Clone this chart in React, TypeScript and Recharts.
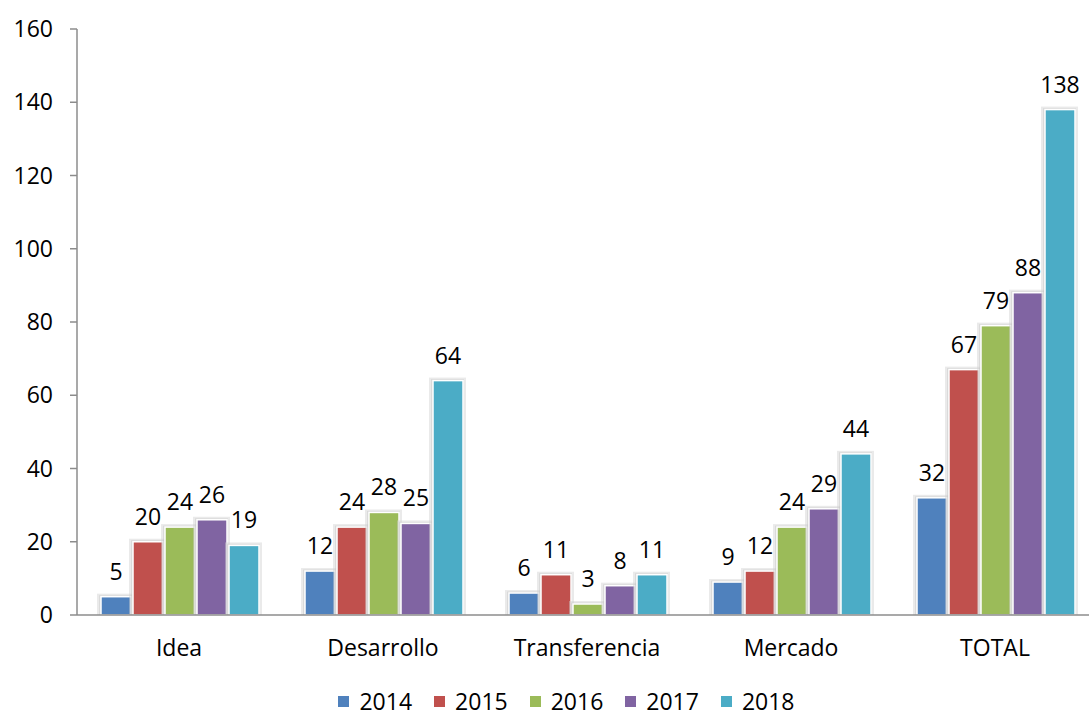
import React from "react";
import {
  BarChart,
  Bar,
  XAxis,
  YAxis,
  Legend,
  LabelList,
} from "recharts";

const categories = ["Idea", "Desarrollo", "Transferencia", "Mercado", "TOTAL"];
const years = ["2014", "2015", "2016", "2017", "2018"];
const values2014 = [5, 12, 6, 9, 32];
const values2015 = [20, 24, 11, 12, 67];
const values2016 = [24, 28, 3, 24, 79];
const values2017 = [26, 25, 8, 29, 88];
const values2018 = [19, 64, 11, 44, 138];
const yTicks = [0, 20, 40, 60, 80, 100, 120, 140, 160];
const boundaryTicks = [0, 1, 2, 3, 4, 5];

const colors = ["#4F81BD", "#C0504D", "#9BBB59", "#8064A2", "#4BACC6"];
const seriesValues = [values2014, values2015, values2016, values2017, values2018];

const data = categories.map((name, i) => {
  const row: Record<string, string | number> = { name };
  years.forEach((y, j) => {
    row[y] = seriesValues[j][i];
  });
  return row;
});

const FONT = "'Open Sans', 'Noto Sans', sans-serif";
const AXIS = "#8c8c8c";
const FS = 23;

// bar with a soft grey shadow on the left/top and a white edge
const ShadowBar = (props: any) => {
  const { x, y, width, height, fill } = props;
  if (!height || height <= 0) return null;
  return (
    <g>
      <rect x={x - 4} y={y - 3} width={width + 7} height={height + 3} fill="#d0d0d0" opacity={0.45} />
      <rect x={x - 2} y={y - 1.5} width={width + 3} height={height + 1.5} fill="#bdbdbd" opacity={0.35} />
      <rect x={x} y={y} width={width} height={height} fill={fill} stroke="#ffffff" strokeWidth={1.5} />
    </g>
  );
};

const LegendContent = (props: any) => {
  const { payload } = props;
  return (
    <div
      style={{
        display: "flex",
        justifyContent: "center",
        paddingLeft: 44,
        fontFamily: FONT,
        fontSize: FS,
        lineHeight: "30px",
        height: 30,
        color: "#000",
      }}
    >
      {(payload || []).map((p: any) => (
        <div key={p.value} style={{ display: "flex", alignItems: "center", margin: "0 11px" }}>
          <span style={{ width: 11, height: 11, background: p.color, display: "inline-block", marginRight: 10 }} />
          <span>{p.value}</span>
        </div>
      ))}
    </div>
  );
};

export default function App() {
  return (
    <div style={{ position: "absolute", left: 0, top: 0, width: 1089, height: 716, overflow: "hidden", background: "#fff" }}>
      <BarChart
        width={1100}
        height={716}
        data={data}
        margin={{ top: 29, right: 3, left: 0, bottom: 0 }}
        barCategoryGap={24}
        barGap={2}
      >
        <XAxis
          xAxisId="b"
          type="number"
          domain={[0, 5]}
          ticks={boundaryTicks}
          tickFormatter={() => ""}
          axisLine={false}
          tickLine={{ stroke: AXIS, strokeWidth: 1.5 }}
          tickSize={7}
          height={0}
        />
        <XAxis
          dataKey="name"
          axisLine={{ stroke: AXIS, strokeWidth: 1.5 }}
          tickLine={false}
          tick={{ fill: "#000", fontSize: FS, fontFamily: FONT }}
          tickMargin={19}
          height={71}
          interval={0}
        />
        <YAxis
          domain={[0, 160]}
          ticks={yTicks}
          width={77}
          axisLine={{ stroke: AXIS, strokeWidth: 1.5 }}
          tickLine={{ stroke: AXIS, strokeWidth: 1.5 }}
          tickSize={7}
          tickMargin={17}
          tick={{ fill: "#000", fontSize: FS, fontFamily: FONT }}
        />
        <Legend
          verticalAlign="bottom"
          content={<LegendContent />}
          wrapperStyle={{ position: "absolute", top: 686, left: 0, width: 1089 }}
        />
        {years.map((y, j) => (
          <Bar key={y} dataKey={y} fill={colors[j]} shape={<ShadowBar />} isAnimationActive={false}>
            <LabelList
              dataKey={y}
              position="top"
              offset={17}
              style={{ fill: "#000", fontSize: FS, fontFamily: FONT }}
            />
          </Bar>
        ))}
      </BarChart>
    </div>
  );
}
